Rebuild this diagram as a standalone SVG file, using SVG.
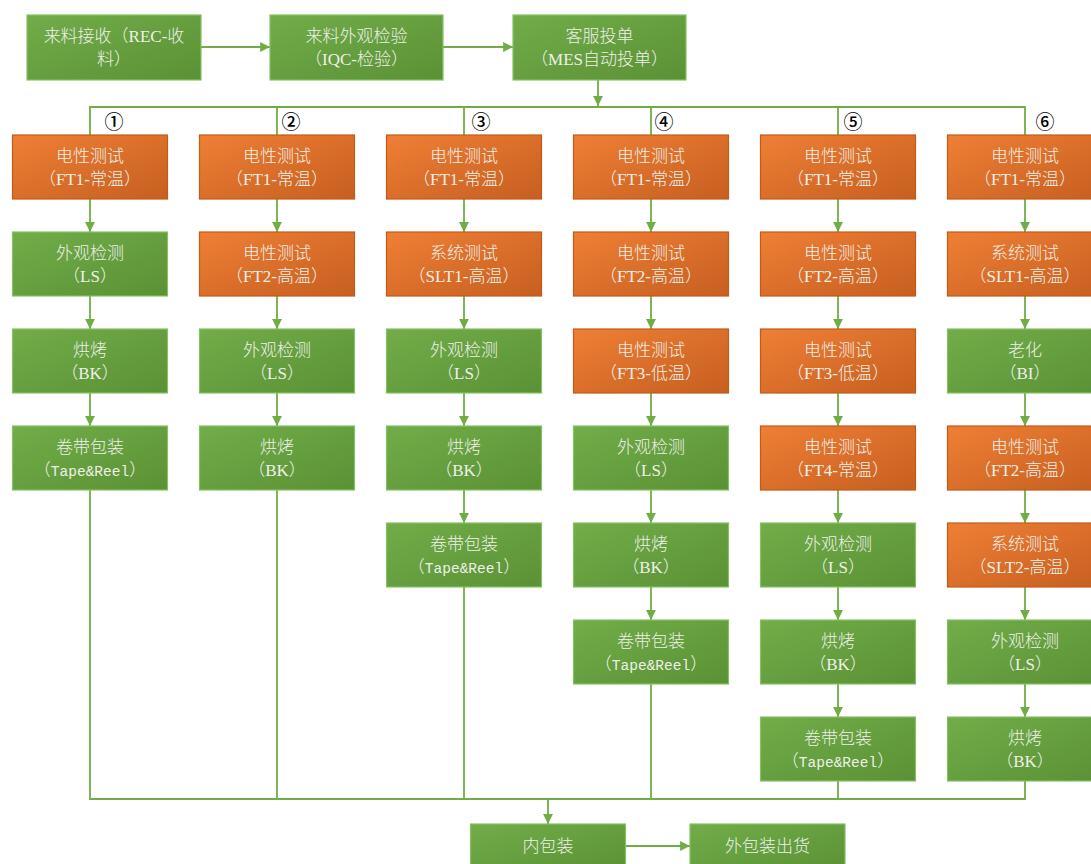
<svg xmlns="http://www.w3.org/2000/svg" width="1091" height="864" viewBox="0 0 1091 864">
  <defs>
    <linearGradient id="gGreen" x1="0" y1="0" x2="1" y2="1">
      <stop offset="0" stop-color="#72ad49"/>
      <stop offset="1" stop-color="#5a9135"/>
    </linearGradient>
    <linearGradient id="gOrange" x1="0" y1="0" x2="1" y2="1">
      <stop offset="0" stop-color="#ef7f35"/>
      <stop offset="1" stop-color="#c65f20"/>
    </linearGradient>
    <marker id="arrow" viewBox="0 0 10 10" refX="10" refY="5" markerWidth="5.5" markerHeight="5.5" orient="auto" markerUnits="strokeWidth">
      <path d="M0,0 L10,5 L0,10 z" fill="#70ad47"/>
    </marker>
    <style>
      .g rect { fill: url(#gGreen); stroke: #88c064; stroke-width: 1.2; }
      .o rect { fill: url(#gOrange); stroke: #c45a18; stroke-width: 1.2; }
      .g text, .o text { fill: #eef0e8; font-family: "Liberation Serif", "Noto Sans CJK SC", serif; font-weight: 300; font-size: 17px; text-anchor: middle; }
      .mono { font-family: "Liberation Mono", monospace; font-size: 14.5px; }
      .num { fill: #000; font-family: "Noto Sans CJK SC", "DejaVu Sans", sans-serif; font-weight: 500; font-size: 19px; text-anchor: middle; }
      #connectors path, #connectors line { fill: none; stroke: #70ad47; stroke-width: 1.8; }
      .arr { marker-end: url(#arrow); }
    </style>
  </defs>
  <rect width="1091" height="864" fill="#ffffff"/>

  <!-- connectors -->
  <g id="connectors">
    <line class="arr" x1="201" y1="47" x2="270" y2="47"/>
    <line class="arr" x1="443" y1="47" x2="513" y2="47"/>
    <line class="arr" x1="598" y1="80" x2="598" y2="106"/>
    <path d="M90,135 V107 H1025 V135"/>
    <line x1="277" y1="107" x2="277" y2="135"/>
    <line x1="464" y1="107" x2="464" y2="135"/>
    <line x1="651" y1="107" x2="651" y2="135"/>
    <line x1="838" y1="107" x2="838" y2="135"/>
    <!-- column 1 -->
    <line class="arr" x1="90" y1="199" x2="90" y2="232"/>
    <line class="arr" x1="90" y1="296" x2="90" y2="329"/>
    <line class="arr" x1="90" y1="393" x2="90" y2="426"/>
    <!-- column 2 -->
    <line class="arr" x1="277" y1="199" x2="277" y2="232"/>
    <line class="arr" x1="277" y1="296" x2="277" y2="329"/>
    <line class="arr" x1="277" y1="393" x2="277" y2="426"/>
    <!-- column 3 -->
    <line class="arr" x1="464" y1="199" x2="464" y2="232"/>
    <line class="arr" x1="464" y1="296" x2="464" y2="329"/>
    <line class="arr" x1="464" y1="393" x2="464" y2="426"/>
    <line class="arr" x1="464" y1="490" x2="464" y2="523"/>
    <!-- column 4 -->
    <line class="arr" x1="651" y1="199" x2="651" y2="232"/>
    <line class="arr" x1="651" y1="296" x2="651" y2="329"/>
    <line class="arr" x1="651" y1="393" x2="651" y2="426"/>
    <line class="arr" x1="651" y1="490" x2="651" y2="523"/>
    <line class="arr" x1="651" y1="587" x2="651" y2="620"/>
    <!-- column 5 -->
    <line class="arr" x1="838" y1="199" x2="838" y2="232"/>
    <line class="arr" x1="838" y1="296" x2="838" y2="329"/>
    <line class="arr" x1="838" y1="393" x2="838" y2="426"/>
    <line class="arr" x1="838" y1="490" x2="838" y2="523"/>
    <line class="arr" x1="838" y1="587" x2="838" y2="620"/>
    <line class="arr" x1="838" y1="684" x2="838" y2="717"/>
    <!-- column 6 -->
    <line class="arr" x1="1025" y1="199" x2="1025" y2="232"/>
    <line class="arr" x1="1025" y1="296" x2="1025" y2="329"/>
    <line class="arr" x1="1025" y1="393" x2="1025" y2="426"/>
    <line class="arr" x1="1025" y1="490" x2="1025" y2="523"/>
    <line class="arr" x1="1025" y1="587" x2="1025" y2="620"/>
    <line class="arr" x1="1025" y1="684" x2="1025" y2="717"/>
    <!-- merge into packing -->
    <path d="M90,490 V799 H1025 V781"/>
    <line x1="277" y1="490" x2="277" y2="799"/>
    <line x1="464" y1="587" x2="464" y2="799"/>
    <line x1="651" y1="684" x2="651" y2="799"/>
    <line x1="838" y1="781" x2="838" y2="799"/>
    <line class="arr" x1="548" y1="799" x2="548" y2="824"/>
    <line class="arr" x1="625" y1="846" x2="690" y2="846"/>
  </g>

  <!-- top row -->
  <g id="n-rec" class="g"><rect x="27" y="15" width="174" height="65"/><text x="114" y="42">来料接收（REC-收</text><text x="114" y="65">料）</text></g>
  <g id="n-iqc" class="g"><rect x="270" y="15" width="173" height="65"/><text x="356.5" y="42">来料外观检验</text><text x="356.5" y="65">（IQC-检验）</text></g>
  <g id="n-mes" class="g"><rect x="513" y="15" width="173" height="65"/><text x="599.5" y="42">客服投单</text><text x="599.5" y="65">（MES自动投单）</text></g>

  <!-- route labels -->
  <text class="num" x="114" y="129">①</text>
  <text class="num" x="291" y="129">②</text>
  <text class="num" x="481" y="129">③</text>
  <text class="num" x="664" y="129">④</text>
  <text class="num" x="853" y="129">⑤</text>
  <text class="num" x="1045" y="129">⑥</text>

  <!-- route 1 -->
  <g id="n1-1" class="o"><rect x="12.5" y="135" width="155" height="64"/><text x="90" y="162">电性测试</text><text x="90" y="185">（FT1-常温）</text></g>
  <g id="n1-2" class="g"><rect x="12.5" y="232" width="155" height="64"/><text x="90" y="259">外观检测</text><text x="90" y="282">（LS）</text></g>
  <g id="n1-3" class="g"><rect x="12.5" y="329" width="155" height="64"/><text x="90" y="356">烘烤</text><text x="90" y="379">（BK）</text></g>
  <g id="n1-4" class="g"><rect x="12.5" y="426" width="155" height="64"/><text x="90" y="453">卷带包装</text><text x="90" y="476">（<tspan class="mono">Tape&amp;Reel</tspan>）</text></g>

  <!-- route 2 -->
  <g id="n2-1" class="o"><rect x="199.5" y="135" width="155" height="64"/><text x="277" y="162">电性测试</text><text x="277" y="185">（FT1-常温）</text></g>
  <g id="n2-2" class="o"><rect x="199.5" y="232" width="155" height="64"/><text x="277" y="259">电性测试</text><text x="277" y="282">（FT2-高温）</text></g>
  <g id="n2-3" class="g"><rect x="199.5" y="329" width="155" height="64"/><text x="277" y="356">外观检测</text><text x="277" y="379">（LS）</text></g>
  <g id="n2-4" class="g"><rect x="199.5" y="426" width="155" height="64"/><text x="277" y="453">烘烤</text><text x="277" y="476">（BK）</text></g>

  <!-- route 3 -->
  <g id="n3-1" class="o"><rect x="386.5" y="135" width="155" height="64"/><text x="464" y="162">电性测试</text><text x="464" y="185">（FT1-常温）</text></g>
  <g id="n3-2" class="o"><rect x="386.5" y="232" width="155" height="64"/><text x="464" y="259">系统测试</text><text x="464" y="282">（SLT1-高温）</text></g>
  <g id="n3-3" class="g"><rect x="386.5" y="329" width="155" height="64"/><text x="464" y="356">外观检测</text><text x="464" y="379">（LS）</text></g>
  <g id="n3-4" class="g"><rect x="386.5" y="426" width="155" height="64"/><text x="464" y="453">烘烤</text><text x="464" y="476">（BK）</text></g>
  <g id="n3-5" class="g"><rect x="386.5" y="523" width="155" height="64"/><text x="464" y="550">卷带包装</text><text x="464" y="573">（<tspan class="mono">Tape&amp;Reel</tspan>）</text></g>

  <!-- route 4 -->
  <g id="n4-1" class="o"><rect x="573.5" y="135" width="155" height="64"/><text x="651" y="162">电性测试</text><text x="651" y="185">（FT1-常温）</text></g>
  <g id="n4-2" class="o"><rect x="573.5" y="232" width="155" height="64"/><text x="651" y="259">电性测试</text><text x="651" y="282">（FT2-高温）</text></g>
  <g id="n4-3" class="o"><rect x="573.5" y="329" width="155" height="64"/><text x="651" y="356">电性测试</text><text x="651" y="379">（FT3-低温）</text></g>
  <g id="n4-4" class="g"><rect x="573.5" y="426" width="155" height="64"/><text x="651" y="453">外观检测</text><text x="651" y="476">（LS）</text></g>
  <g id="n4-5" class="g"><rect x="573.5" y="523" width="155" height="64"/><text x="651" y="550">烘烤</text><text x="651" y="573">（BK）</text></g>
  <g id="n4-6" class="g"><rect x="573.5" y="620" width="155" height="64"/><text x="651" y="647">卷带包装</text><text x="651" y="670">（<tspan class="mono">Tape&amp;Reel</tspan>）</text></g>

  <!-- route 5 -->
  <g id="n5-1" class="o"><rect x="760.5" y="135" width="155" height="64"/><text x="838" y="162">电性测试</text><text x="838" y="185">（FT1-常温）</text></g>
  <g id="n5-2" class="o"><rect x="760.5" y="232" width="155" height="64"/><text x="838" y="259">电性测试</text><text x="838" y="282">（FT2-高温）</text></g>
  <g id="n5-3" class="o"><rect x="760.5" y="329" width="155" height="64"/><text x="838" y="356">电性测试</text><text x="838" y="379">（FT3-低温）</text></g>
  <g id="n5-4" class="o"><rect x="760.5" y="426" width="155" height="64"/><text x="838" y="453">电性测试</text><text x="838" y="476">（FT4-常温）</text></g>
  <g id="n5-5" class="g"><rect x="760.5" y="523" width="155" height="64"/><text x="838" y="550">外观检测</text><text x="838" y="573">（LS）</text></g>
  <g id="n5-6" class="g"><rect x="760.5" y="620" width="155" height="64"/><text x="838" y="647">烘烤</text><text x="838" y="670">（BK）</text></g>
  <g id="n5-7" class="g"><rect x="760.5" y="717" width="155" height="64"/><text x="838" y="744">卷带包装</text><text x="838" y="767">（<tspan class="mono">Tape&amp;Reel</tspan>）</text></g>

  <!-- route 6 -->
  <g id="n6-1" class="o"><rect x="947.5" y="135" width="155" height="64"/><text x="1025" y="162">电性测试</text><text x="1025" y="185">（FT1-常温）</text></g>
  <g id="n6-2" class="o"><rect x="947.5" y="232" width="155" height="64"/><text x="1025" y="259">系统测试</text><text x="1025" y="282">（SLT1-高温）</text></g>
  <g id="n6-3" class="g"><rect x="947.5" y="329" width="155" height="64"/><text x="1025" y="356">老化</text><text x="1025" y="379">（BI）</text></g>
  <g id="n6-4" class="o"><rect x="947.5" y="426" width="155" height="64"/><text x="1025" y="453">电性测试</text><text x="1025" y="476">（FT2-高温）</text></g>
  <g id="n6-5" class="o"><rect x="947.5" y="523" width="155" height="64"/><text x="1025" y="550">系统测试</text><text x="1025" y="573">（SLT2-高温）</text></g>
  <g id="n6-6" class="g"><rect x="947.5" y="620" width="155" height="64"/><text x="1025" y="647">外观检测</text><text x="1025" y="670">（LS）</text></g>
  <g id="n6-7" class="g"><rect x="947.5" y="717" width="155" height="64"/><text x="1025" y="744">烘烤</text><text x="1025" y="767">（BK）</text></g>

  <!-- packing and shipping -->
  <g id="n-inner" class="g"><rect x="470.5" y="824" width="155" height="48"/><text x="548" y="852">内包装</text></g>
  <g id="n-outer" class="g"><rect x="690" y="824" width="155" height="48"/><text x="767.5" y="852">外包装出货</text></g>
</svg>
